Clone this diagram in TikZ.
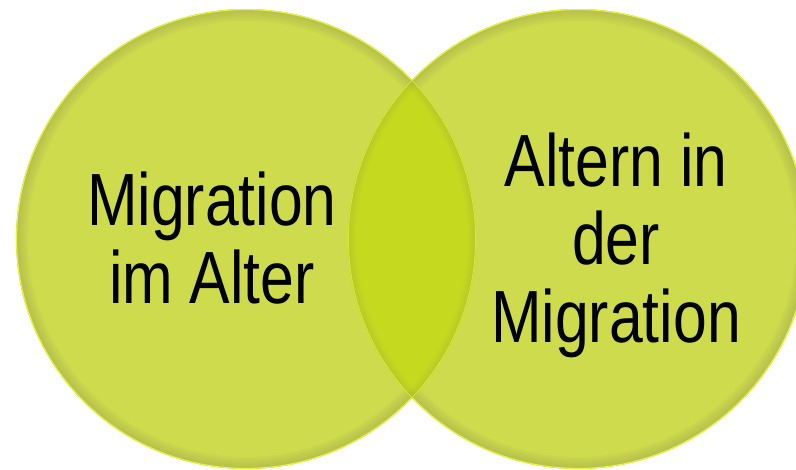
\documentclass[tikz,border=0pt]{standalone}
\usepackage{fontspec}
\setmainfont{Liberation Sans}[FakeStretch=0.82]
\definecolor{discfill}{RGB}{205,219,76}
\definecolor{lensfill}{RGB}{197,218,30}
\definecolor{rimshade}{RGB}{140,140,90}
\definecolor{rimlight}{RGB}{230,248,55}
\begin{document}
\begin{tikzpicture}[x=1pt,y=-1pt,
  disc/.style={fill=discfill},
  lens/.style={fill=lensfill},
  rimline/.style={draw=rimlight,line width=2.2pt},
  label/.style={font=\fontsize{74}{78}\selectfont,align=center,inner sep=0pt,text=black}]
\useasboundingbox (0,0) rectangle (796,470);
\coordinate (cl) at (246,239);
\coordinate (cr) at (578,239);
\begin{scope}
  \clip (0,0) rectangle (796,470);
  % left disc with soft inner rim
  \fill[disc] (cl) circle[radius=230];
  \begin{scope}
    \clip (cl) circle[radius=230];
    \foreach \w in {4,8,...,24}
      \draw[rimshade,opacity=0.06,line width=\w pt] (cl) circle[radius=230];
    \draw[rimline] (cl) circle[radius=230];
  \end{scope}
  % right disc
  \fill[disc] (cr) circle[radius=230];
  \begin{scope}
    \clip (cr) circle[radius=230];
    \foreach \w in {4,8,...,24}
      \draw[rimshade,opacity=0.06,line width=\w pt] (cr) circle[radius=230];
    \draw[rimline] (cr) circle[radius=230];
  \end{scope}
  % overlapping lens
  \begin{scope}
    \clip (cl) circle[radius=230];
    \fill[lens] (cr) circle[radius=230];
    \begin{scope}
      \clip (cr) circle[radius=230];
      \foreach \w in {4,8,...,16}
        \draw[rimshade,opacity=0.05,line width=\w pt] (cr) circle[radius=230];
      \foreach \w in {4,8,...,16}
        \draw[rimshade,opacity=0.05,line width=\w pt] (cl) circle[radius=230];
      \draw[rimlight,opacity=0.7,line width=1.6pt] (cr) circle[radius=230];
      \draw[rimlight,opacity=0.7,line width=1.6pt] (cl) circle[radius=230];
    \end{scope}
  \end{scope}
\end{scope}
\node[label] (left) at (212,238) {Migration\\im Alter};
\node[label] (right) at (616,245) {Altern in\\der\\Migration};
\end{tikzpicture}
\end{document}
